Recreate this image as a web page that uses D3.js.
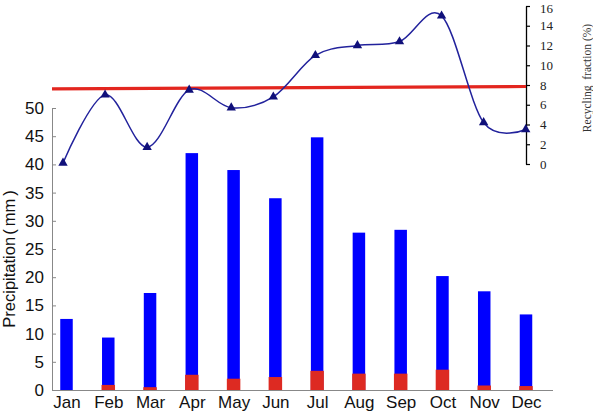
<!DOCTYPE html>
<html>
<head>
<meta charset="utf-8">
<script src="https://cdn.jsdelivr.net/npm/d3@7"></script>
<style>
  html, body { margin: 0; padding: 0; background: #fff; }
  svg { display: block; }
</style>
</head>
<body>
<svg id="chart" width="593" height="413"></svg>
<script>
const months = ["Jan","Feb","Mar","Apr","May","Jun","Jul","Aug","Sep","Oct","Nov","Dec"];
const precipitation = [12.6, 9.3, 17.2, 42.0, 39.0, 34.0, 44.8, 27.9, 28.4, 20.2, 17.5, 13.4];
const recycledPrecip = [0.0, 0.9, 0.5, 2.7, 2.0, 2.3, 3.4, 2.9, 2.9, 3.6, 0.8, 0.7];
const recyclingFraction = [0.1, 7.0, 1.7, 7.5, 5.7, 6.8, 11.0, 12.0, 12.4, 15.0, 4.2, 3.5];
const meanLine = [7.6, 7.85];
const leftTicks = [0, 5, 10, 15, 20, 25, 30, 35, 40, 45, 50];
const rightTicks = [0, 2, 4, 6, 8, 10, 12, 14, 16];

const svg = d3.select("#chart");

const plotLeft = 52, plotRight = 553, rightAxisX = 526;

const xBar = d3.scalePoint().domain(months).range([66.5, 526]);
const xLine = d3.scalePoint().domain(months).range([63, 525.7]);
const yLeft = d3.scaleLinear().domain([0, 50]).range([390, 108]);
const yRight = d3.scaleLinear().domain([0, 16]).range([164, 6]);

const barW = 12.5;

// Blue bars (total precipitation)
svg.append("g").selectAll("rect").data(precipitation).join("rect")
  .attr("x", (d, i) => xBar(months[i]) - barW / 2)
  .attr("y", d => yLeft(d))
  .attr("width", barW)
  .attr("height", d => yLeft(0) - yLeft(d))
  .attr("fill", "#0000ff");

// Red bars (recycled precipitation)
svg.append("g").selectAll("rect").data(recycledPrecip).join("rect")
  .attr("x", (d, i) => xBar(months[i]) - barW / 2 - 0.5)
  .attr("y", d => yLeft(d))
  .attr("width", barW + 1)
  .attr("height", d => yLeft(0) - yLeft(d))
  .attr("fill", "#dd2a22");

// Left axis
const leftAxis = d3.axisLeft(yLeft).tickValues(leftTicks).tickSizeInner(-4).tickSizeOuter(0).tickPadding(8);
const gL = svg.append("g").attr("transform", `translate(${plotLeft},0)`).call(leftAxis);
gL.select(".domain").attr("stroke", "#888").attr("stroke-width", 1);
gL.selectAll(".tick line").attr("stroke", "#888");
gL.selectAll(".tick text").attr("font-family", "'Liberation Sans', Arial, sans-serif")
  .attr("font-size", 17).attr("fill", "#111");

// Bottom axis
const bottomAxis = d3.axisBottom(xBar).tickSize(0).tickPadding(6);
const gB = svg.append("g").attr("transform", `translate(0,${yLeft(0)})`).call(bottomAxis);
gB.select(".domain").attr("d", `M${plotLeft},0.5H${plotRight}`).attr("stroke", "#888").attr("stroke-width", 1);
gB.selectAll(".tick text").attr("font-family", "'Liberation Sans', Arial, sans-serif")
  .attr("font-size", 17).attr("fill", "#111");

// Right axis
const rightAxis = d3.axisRight(yRight).tickValues(rightTicks).tickSizeInner(4).tickSizeOuter(0).tickPadding(10);
const gR = svg.append("g").attr("transform", `translate(${rightAxisX},0)`).call(rightAxis);
gR.select(".domain").attr("stroke", "#000").attr("stroke-width", 1.3);
gR.selectAll(".tick line").attr("stroke", "#000").attr("stroke-width", 1.2);
gR.selectAll(".tick text").attr("font-family", "'Liberation Serif', 'Times New Roman', serif")
  .attr("font-size", 13).attr("fill", "#222");
gR.selectAll(".tick text").filter(d => d === 16).attr("dy", "0.5em");

// Red mean line
svg.append("line")
  .attr("x1", plotLeft).attr("x2", rightAxisX)
  .attr("y1", yRight(meanLine[0])).attr("y2", yRight(meanLine[1]))
  .attr("stroke", "#e3261f").attr("stroke-width", 3.2);

// Recycling fraction line
const line = d3.line()
  .x((d, i) => xLine(months[i]))
  .y(d => yRight(d))
  .curve(d3.curveCardinal.tension(0));
svg.append("path").datum(recyclingFraction)
  .attr("d", line)
  .attr("fill", "none")
  .attr("stroke", "#22229c")
  .attr("stroke-width", 1.5);

svg.append("g").selectAll("path").data(recyclingFraction).join("path")
  .attr("d", d3.symbol().type(d3.symbolTriangle).size(38))
  .attr("transform", (d, i) => `translate(${xLine(months[i])},${yRight(d)})`)
  .attr("fill", "#10107a");

// Axis titles
const yTitle = svg.append("text")
  .attr("transform", `translate(15,259) rotate(-90)`)
  .attr("text-anchor", "middle")
  .attr("font-family", "'Liberation Sans', Arial, sans-serif")
  .attr("font-size", 16.5)
  .attr("fill", "#111");
yTitle.append("tspan").text("Precipitation");
yTitle.append("tspan").attr("dx", 2).text("(");
yTitle.append("tspan").attr("dx", 3).text("mm");
yTitle.append("tspan").attr("dx", 3).text(")");

svg.append("text")
  .attr("transform", `translate(591,78) rotate(-90)`)
  .attr("text-anchor", "middle")
  .attr("font-family", "'Liberation Serif', 'Times New Roman', serif")
  .attr("font-size", 11.5)
  .attr("fill", "#333")
  .attr("xml:space", "preserve")
  .style("white-space", "pre")
  .text("Recycling  fraction (%)");
</script>
</body>
</html>
